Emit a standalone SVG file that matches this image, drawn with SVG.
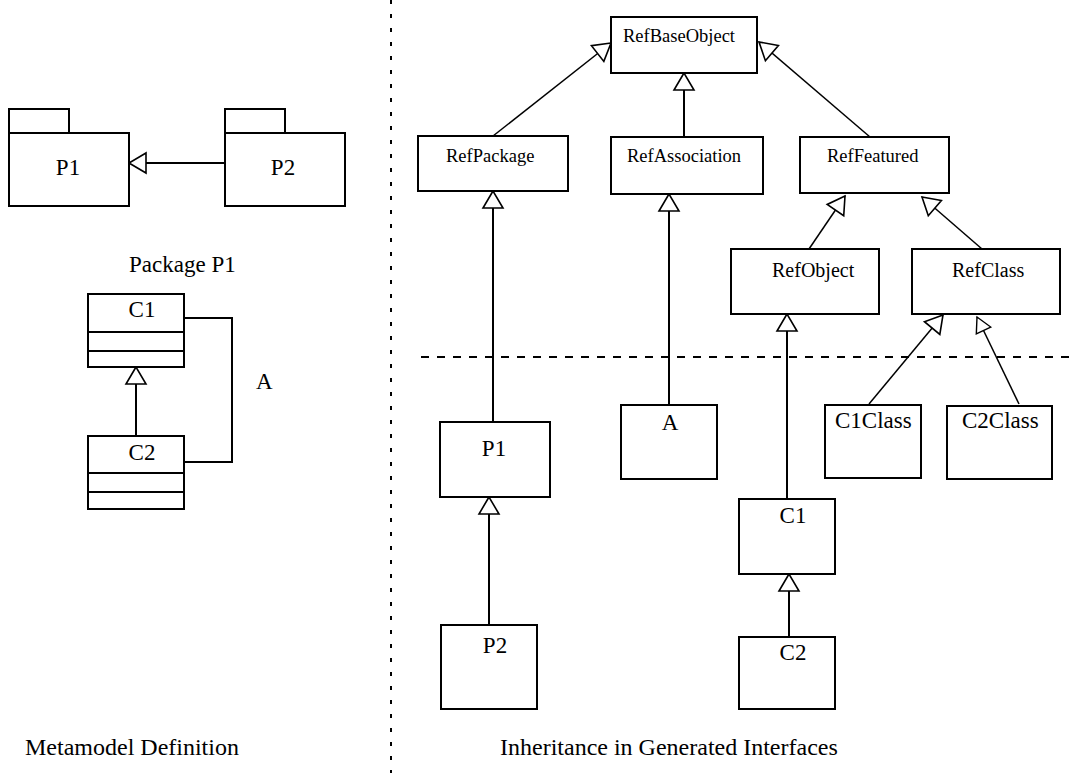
<svg xmlns="http://www.w3.org/2000/svg" width="1072" height="773" viewBox="0 0 1072 773">
<style>
.box{fill:#fff;stroke:#000;stroke-width:2}
.ln{fill:none;stroke:#000;stroke-width:2}
.dg{fill:none;stroke:#000;stroke-width:1.5}
text{font-family:"Liberation Serif","Times New Roman",serif;fill:#000}
.big{font-size:23px}
.cap{font-size:24px}
.ref{font-size:18.5px}
.mid{text-anchor:middle}
</style>
<defs>
<marker id="tri" markerUnits="userSpaceOnUse" viewBox="-19 -12 21 24" refX="0" refY="0" markerWidth="21" markerHeight="24" orient="auto">
<path d="M0,0 L-17,-10 L-17,10 Z" fill="#fff" stroke="#000" stroke-width="1.6"/>
</marker>
<marker id="tris" markerUnits="userSpaceOnUse" viewBox="-17 -10 19 20" refX="0" refY="0" markerWidth="19" markerHeight="20" orient="auto">
<path d="M0,0 L-15,-8 L-15,8 Z" fill="#fff" stroke="#000" stroke-width="1.4"/>
</marker>
</defs>
<rect width="1072" height="773" fill="#fff"/>

<g id="separators">
<line x1="391" y1="0" x2="391" y2="773" stroke="#000" stroke-width="2" stroke-dasharray="4 10"/>
<line x1="421" y1="357" x2="1072" y2="357" stroke="#000" stroke-width="2" stroke-dasharray="8 8"/>
</g>

<g id="connectors">
<path class="ln" d="M225,163 H129" marker-end="url(#tri)"/>
<path class="ln" d="M136,436 V367" marker-end="url(#tri)"/>
<path class="ln" d="M184,318 H232 V462 H184"/>
<path class="dg" d="M493,136 L611,43" marker-end="url(#tri)"/>
<path class="ln" d="M684,137 V73" marker-end="url(#tri)"/>
<path class="dg" d="M870,137 L759,42" marker-end="url(#tri)"/>
<path class="dg" d="M809,249 L845,196" marker-end="url(#tri)"/>
<path class="dg" d="M982,249 L922,197" marker-end="url(#tri)"/>
<path class="ln" d="M493,422 V191" marker-end="url(#tri)"/>
<path class="ln" d="M669,405 V194" marker-end="url(#tri)"/>
<path class="ln" d="M787,499 V314" marker-end="url(#tri)"/>
<path class="dg" d="M869,404 L943,315" marker-end="url(#tri)"/>
<path class="dg" d="M1019,404 L977,317" marker-end="url(#tris)"/>
<path class="ln" d="M489,625 V497" marker-end="url(#tri)"/>
<path class="ln" d="M789,637 V574" marker-end="url(#tri)"/>
</g>

<g id="pkgP1">
<rect class="box" x="9" y="109" width="60" height="24"/>
<rect class="box" x="9" y="133" width="120" height="73"/>
<text class="big mid" x="68" y="175">P1</text>
</g>
<g id="pkgP2">
<rect class="box" x="225" y="109" width="60" height="24"/>
<rect class="box" x="225" y="133" width="120" height="73"/>
<text class="big mid" x="283" y="175">P2</text>
</g>
<g id="lblPackageP1"><text class="big" x="129" y="272">Package P1</text></g>

<g id="umlC1">
<rect class="box" x="88" y="294" width="96" height="73"/>
<line class="ln" x1="88" y1="332" x2="184" y2="332"/>
<line class="ln" x1="88" y1="351" x2="184" y2="351"/>
<text class="big mid" x="142" y="317">C1</text>
</g>
<g id="umlC2">
<rect class="box" x="88" y="436" width="96" height="73"/>
<line class="ln" x1="88" y1="473" x2="184" y2="473"/>
<line class="ln" x1="88" y1="492" x2="184" y2="492"/>
<text class="big mid" x="142" y="460">C2</text>
</g>
<g id="lblA"><text class="big" x="256" y="389">A</text></g>

<g id="RefBaseObject">
<rect class="box" x="611" y="17" width="146" height="56"/>
<text class="ref" x="623" y="42">RefBaseObject</text>
</g>
<g id="RefPackage">
<rect class="box" x="418" y="136" width="150" height="55"/>
<text class="ref" x="446" y="162">RefPackage</text>
</g>
<g id="RefAssociation">
<rect class="box" x="611" y="137" width="152" height="57"/>
<text class="ref" x="627" y="162">RefAssociation</text>
</g>
<g id="RefFeatured">
<rect class="box" x="800" y="137" width="149" height="56"/>
<text class="ref" x="827" y="162">RefFeatured</text>
</g>
<g id="RefObject">
<rect class="box" x="731" y="249" width="148" height="65"/>
<text class="ref" x="772" y="277" style="font-size:20px">RefObject</text>
</g>
<g id="RefClass">
<rect class="box" x="912" y="249" width="148" height="65"/>
<text class="ref" x="952" y="277" style="font-size:20px">RefClass</text>
</g>
<g id="genP1">
<rect class="box" x="440" y="422" width="110" height="75"/>
<text class="big mid" x="494" y="456">P1</text>
</g>
<g id="genA">
<rect class="box" x="621" y="405" width="96" height="74"/>
<text class="big mid" x="670" y="430">A</text>
</g>
<g id="C1Class">
<rect class="box" x="825" y="405" width="96" height="73"/>
<text class="big" x="835" y="428">C1Class</text>
</g>
<g id="C2Class">
<rect class="box" x="947" y="406" width="105" height="73"/>
<text class="big" x="962" y="428">C2Class</text>
</g>
<g id="genC1">
<rect class="box" x="739" y="499" width="96" height="75"/>
<text class="big mid" x="793" y="523">C1</text>
</g>
<g id="genP2">
<rect class="box" x="441" y="625" width="96" height="84"/>
<text class="big mid" x="495" y="653">P2</text>
</g>
<g id="genC2">
<rect class="box" x="739" y="637" width="96" height="72"/>
<text class="big mid" x="793" y="660">C2</text>
</g>

<g id="captions">
<text class="cap" x="25" y="755">Metamodel Definition</text>
<text class="cap" x="500" y="755">Inheritance in Generated Interfaces</text>
</g>
</svg>
